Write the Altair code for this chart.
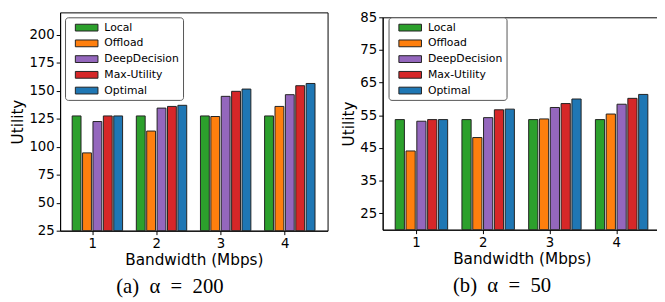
import altair as alt
import pandas as pd

bandwidths = [1, 2, 3, 4]
series = ["Local", "Offload", "DeepDecision", "Max-Utility", "Optimal"]
colors = ["#2ca02c", "#ff7f0e", "#9467bd", "#d62728", "#1f77b4"]

# (a) alpha = 200
local_a = [127.5, 127.5, 127.5, 127.5]
offload_a = [94.5, 114.0, 127.0, 136.0]
deep_a = [122.5, 134.5, 145.0, 146.5]
maxu_a = [127.5, 136.0, 149.5, 154.5]
opt_a = [127.5, 137.0, 151.5, 156.5]

# (b) alpha = 50
local_b = [53.7, 53.7, 53.7, 53.7]
offload_b = [44.1, 48.2, 53.9, 55.4]
deep_b = [53.2, 54.3, 57.4, 58.4]
maxu_b = [53.7, 56.7, 58.6, 60.2]
opt_b = [53.7, 56.9, 60.0, 61.4]

ticks_a = [25, 50, 75, 100, 125, 150, 175, 200]
ticks_b = [25, 35, 45, 55, 65, 75, 85]


def make_df(cols):
    rows = []
    for i, (name, vals) in enumerate(zip(series, cols)):
        for bw, v in zip(bandwidths, vals):
            rows.append({"bw": bw, "series": name, "idx": i, "value": v})
    return pd.DataFrame(rows)


df_a = make_df([local_a, offload_a, deep_a, maxu_a, opt_a])
df_b = make_df([local_b, offload_b, deep_b, maxu_b, opt_b])

FONT = "DejaVu Sans"


def panel(df, domain, ticks, width, height, caption, lx, ly):
    legend = alt.Legend(
        title=None, orient="none", legendX=lx, legendY=ly,
        symbolType="M0,-0.6H4V0.6H0Z", symbolSize=132,
        symbolStrokeColor="#222", symbolStrokeWidth=1, symbolOpacity=1,
        labelFont=FONT, labelFontSize=11, labelColor="black",
        labelOffset=23, rowPadding=4, padding=4,
        strokeColor="#555", fillColor="white", cornerRadius=3,
    )
    bars = alt.Chart(df).transform_calculate(
        x0="datum.bw + (datum.idx - 1.5) * 0.162 - 0.069",
        x1="datum.bw + (datum.idx - 1.5) * 0.162 + 0.069",
    ).mark_bar(stroke="#222", strokeWidth=1, clip=True).encode(
        x=alt.X("x0:Q", scale=alt.Scale(domain=[0.5, 4.67], nice=False, zero=False),
                axis=alt.Axis(values=bandwidths, format="d", title="Bandwidth (Mbps)")),
        x2="x1:Q",
        y=alt.Y("value:Q", scale=alt.Scale(domain=domain, nice=False, zero=False),
                axis=alt.Axis(values=ticks, title="Utility")),
        y2=alt.datum(domain[0]),
        color=alt.Color("series:N", scale=alt.Scale(domain=series, range=colors), legend=legend),
    )
    frame = alt.Chart(pd.DataFrame({"f": [0]})).mark_rect(
        filled=False, stroke="black", strokeWidth=1
    ).encode(
        x=alt.value(0.5), x2=alt.value(width + 0.5),
        y=alt.value(0.5), y2=alt.value(height + 0.5),
    )
    return alt.layer(bars, frame).properties(
        width=width, height=height,
        title=alt.TitleParams(caption, orient="bottom", anchor="middle", frame="bounds",
                              font="Liberation Serif", fontSize=21, fontWeight="normal",
                              offset=8, color="black"),
    )


left = panel(df_a, [25, 220], ticks_a, 272, 222, "(a)\u2002α\u2002=\u2002200", 5, 5)
right = panel(df_b, [20, 85], ticks_b, 283, 216, "(b)\u2002α\u2002=\u200250", 6, 5)

spacer = alt.Chart(pd.DataFrame({"f": [0]})).mark_point(opacity=0, size=0).encode(
    x=alt.value(0), y=alt.value(0)
).properties(width=1, height=1, view=alt.ViewBackground(strokeWidth=0))

chart = alt.hconcat(
    left, alt.vconcat(spacer, right, spacing=-3), spacing=13
).resolve_scale(color="independent").resolve_legend(color="independent").properties(
    padding={"left": 3, "top": 0, "right": -5, "bottom": 0}
).configure_view(strokeWidth=0).configure_axis(
    labelFont=FONT, labelFontSize=13.5, labelColor="black", labelPadding=2,
    titleFont=FONT, titleFontSize=15.5, titleFontWeight="normal", titleColor="black",
    titlePadding=3, domainColor="black", tickColor="black", tickSize=4, grid=False,
)

chart.save("out.html", embed_options={"renderer": "svg", "actions": False})
